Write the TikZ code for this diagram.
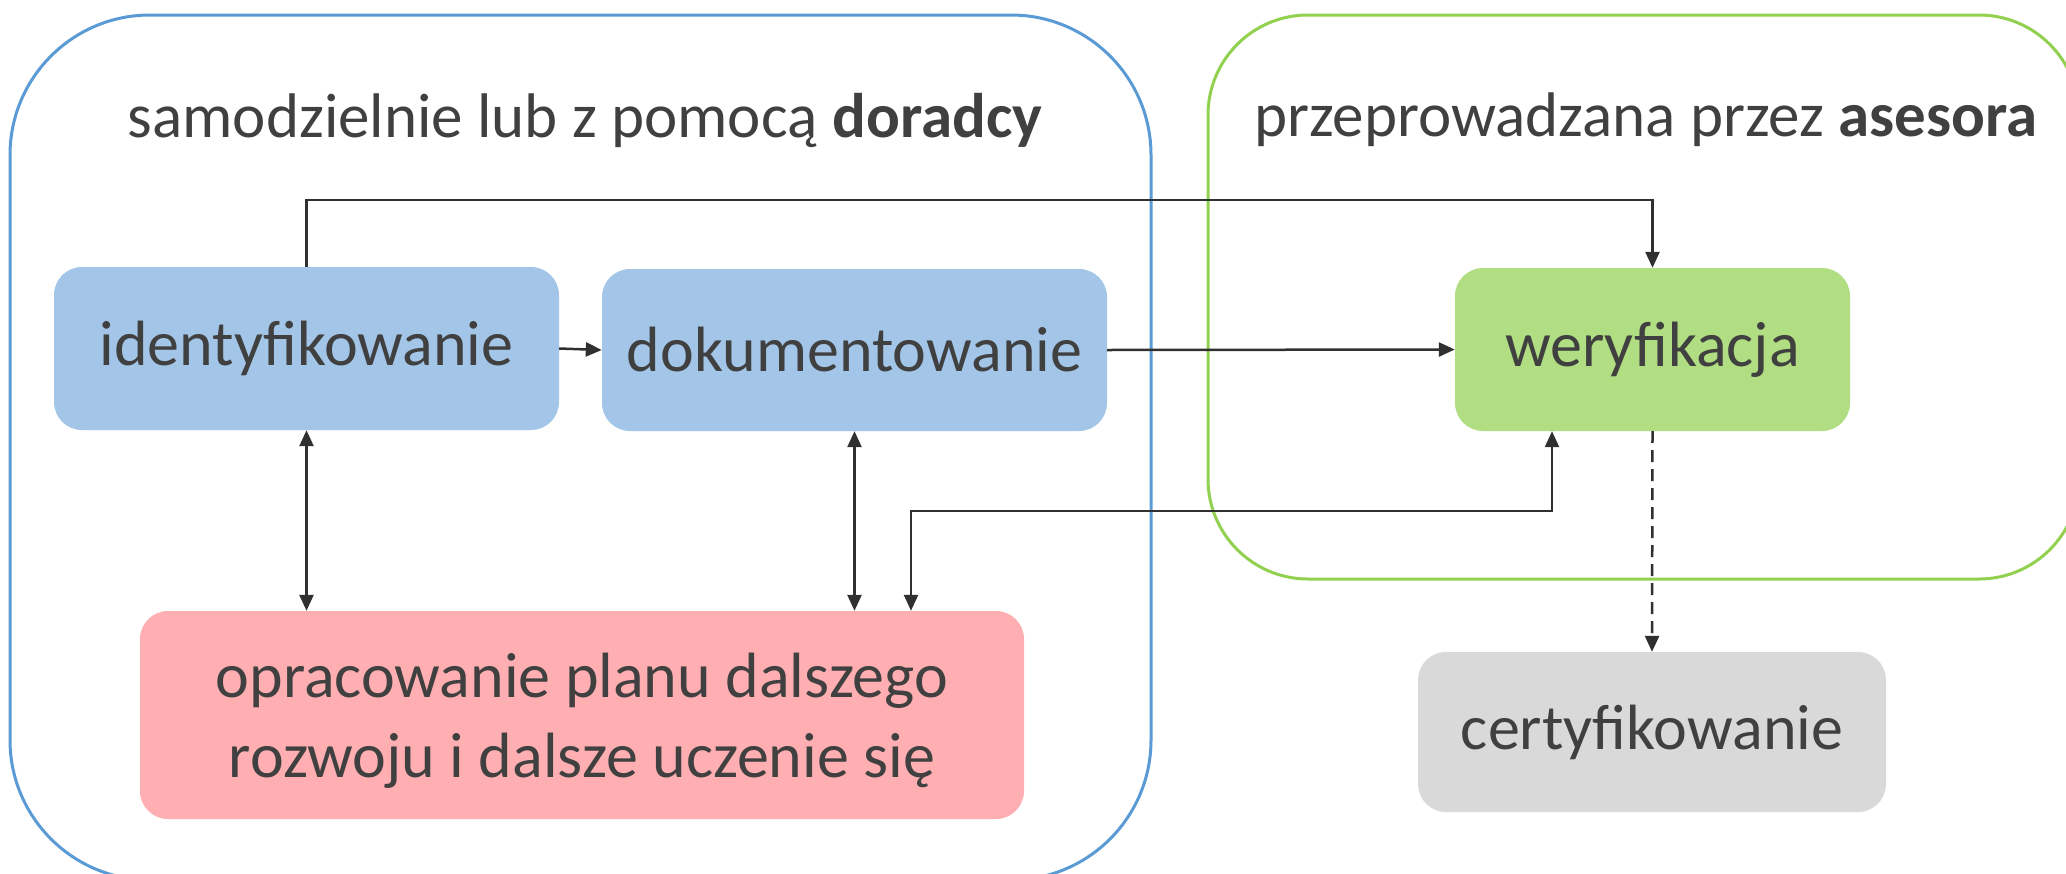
\documentclass[tikz,border=0pt]{standalone}
\usepackage{fontspec}
\setmainfont{Carlito}
\usetikzlibrary{arrows.meta}
\definecolor{outblue}{HTML}{5B9BD5}
\definecolor{outgreen}{HTML}{92D050}
\definecolor{fillblue}{HTML}{A3C6E8}
\definecolor{fillgreen}{HTML}{B1DE82}
\definecolor{fillpink}{HTML}{FFAFB2}
\definecolor{fillgrey}{HTML}{D9D9D9}
\definecolor{txt}{HTML}{404040}
\definecolor{lin}{HTML}{303030}
\tikzset{
  stepbox/.style={rounded corners=28pt, inner sep=0pt, text=txt, align=center,
    font=\fontsize{64}{80}\selectfont},
  titletext/.style={text=txt, inner sep=0pt, anchor=base, font=\fontsize{63}{72}\selectfont},
  conn/.style={draw=lin, line width=2.5pt, -{Triangle[length=16pt,width=14pt]}},
  dconn/.style={draw=lin, line width=2.5pt, {Triangle[length=16pt,width=14pt]}-{Triangle[length=16pt,width=14pt]}},
  outbox/.style={line width=3pt, rounded corners=140pt}
}
\begin{document}
\begin{tikzpicture}[x=1pt,y=-1pt]
\clip (0,0) rectangle (2066,873);
\fill[white] (0,0) rectangle (2066,873);
% containers
\draw[outbox, draw=outblue] (10,15) rectangle (1151,880);
\draw[outbox, draw=outgreen, rounded corners=100pt] (1208,15) rectangle (2079,579);
% titles
\node[titletext] (t1) at (585,137) {samodzielnie lub z pomocą \textbf{doradcy}};
\node[titletext] (t2) at (1646,136) {przeprowadzana przez \textbf{asesora}};
% boxes
\node[stepbox, fill=fillblue, minimum width=505pt, minimum height=163pt] (ident) at (306.5,348.5) {identyfikowanie};
\node[stepbox, fill=fillblue, minimum width=505pt, minimum height=162pt] (dok) at (854.5,350) {dokumentowanie};
\node[stepbox, fill=fillgreen, minimum width=395pt, minimum height=163pt] (wer) at (1652.5,349.5) {weryfikacja};
\node[stepbox, fill=fillpink, minimum width=884pt, minimum height=208pt] (opr) at (582,715) {};
\node[text=txt, align=center, inner sep=0pt, font=\fontsize{64}{80}\selectfont] (oprtext) at (582,721) {opracowanie planu dalszego\\rozwoju i dalsze uczenie się};
\node[stepbox, fill=fillgrey, minimum width=468pt, minimum height=160pt] (cert) at (1652,732) {certyfikowanie};
% helper coordinates
\coordinate (toprow) at (0,200);
\coordinate (m1) at (911,511);
\coordinate (m2) at (1552,511);
% connectors
\draw[conn] (ident.north) -- (ident.north |- toprow) -| (wer.north);
\draw[conn] (ident.east) -- (dok.west);
\draw[conn] (dok.east) -- (wer.west);
\draw[dconn] (ident.south) -- (opr.north -| ident.south);
\draw[dconn] (dok.south) -- (opr.north -| dok.south);
\draw[dconn] (opr.north -| m1) -- (m1) -- (m2) -- (wer.south -| m2);
\draw[conn, dash pattern=on 12pt off 7pt] (wer.south) -- (cert.north);
\end{tikzpicture}
\end{document}
